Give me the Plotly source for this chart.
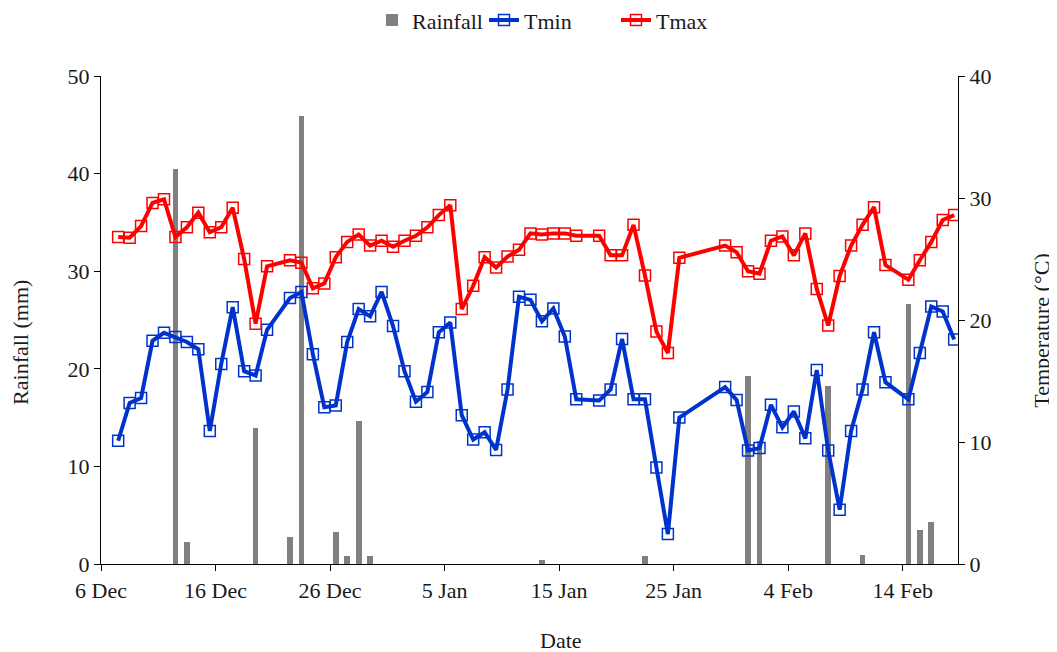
import pandas as pd
import plotly.graph_objects as go

# ---- data ----
dates = [
    "2018-12-07", "2018-12-08", "2018-12-09", "2018-12-10", "2018-12-11", "2018-12-12",
    "2018-12-13", "2018-12-14", "2018-12-15", "2018-12-16", "2018-12-17", "2018-12-18",
    "2018-12-19", "2018-12-20", "2018-12-22", "2018-12-23", "2018-12-24", "2018-12-25",
    "2018-12-26", "2018-12-27", "2018-12-28", "2018-12-29", "2018-12-30", "2018-12-31",
    "2019-01-01", "2019-01-02", "2019-01-03", "2019-01-04", "2019-01-05", "2019-01-06",
    "2019-01-07", "2019-01-08", "2019-01-09", "2019-01-10", "2019-01-11", "2019-01-12",
    "2019-01-13", "2019-01-14", "2019-01-15", "2019-01-16", "2019-01-18", "2019-01-19",
    "2019-01-20", "2019-01-21", "2019-01-22", "2019-01-23", "2019-01-24", "2019-01-25",
    "2019-01-29", "2019-01-30", "2019-01-31",
    "2019-02-01", "2019-02-02", "2019-02-03", "2019-02-04", "2019-02-05", "2019-02-06",
    "2019-02-07", "2019-02-08", "2019-02-09", "2019-02-10", "2019-02-11", "2019-02-12",
    "2019-02-14", "2019-02-15", "2019-02-16", "2019-02-17", "2019-02-18",
]

tmin = [
    10.1, 13.2, 13.6, 18.3, 18.95, 18.6,
    18.2, 17.6, 10.9, 16.4, 21.05, 15.8,
    15.45, 19.2, 21.8, 22.3, 17.2, 12.85,
    13.0, 18.2, 20.9, 20.3, 22.3, 19.5,
    15.8, 13.3, 14.1, 19.0, 19.8, 12.2,
    10.2, 10.8, 9.35, 14.3, 21.9, 21.65,
    19.9, 20.95, 18.65, 13.5, 13.4, 14.3,
    18.45, 13.5, 13.5, 7.9, 2.45, 12.0,
    14.5, 13.45, 9.3,
    9.5, 13.05, 11.2, 12.5, 10.3, 15.9,
    9.3, 4.45, 10.9, 14.3, 19.0, 14.9,
    13.5, 17.3, 21.1, 20.7, 18.4,
]

tmax = [
    26.8, 26.75, 27.7, 29.6, 29.9, 26.8,
    27.6, 28.8, 27.2, 27.6, 29.2, 25.0,
    19.7, 24.4, 24.9, 24.7, 22.6, 23.0,
    25.15, 26.4, 27.0, 26.1, 26.5, 26.0,
    26.5, 26.9, 27.6, 28.6, 29.4, 20.9,
    22.8, 25.15, 24.3, 25.2, 25.75, 27.1,
    27.0, 27.1, 27.1, 26.9, 26.9, 25.3,
    25.3, 27.8, 23.65, 19.05, 17.3, 25.1,
    26.1, 25.55, 24.0,
    23.8, 26.5, 26.85, 25.3, 27.1, 22.55,
    19.55, 23.6, 26.1, 27.8, 29.25, 24.5,
    23.3, 24.9, 26.4, 28.2, 28.6,
]

rainfall = [
    0, 0, 0, 0, 0, 40.5,
    2.3, 0, 0, 0, 0, 0,
    13.95, 0, 2.8, 45.9, 0, 0,
    3.25, 0.8, 14.7, 0.8, 0, 0,
    0, 0, 0, 0, 0, 0,
    0, 0, 0, 0, 0, 0,
    0.4, 0, 0, 0, 0, 0,
    0, 0, 0.8, 0, 0, 0,
    0, 0, 19.25,
    12.6, 0, 0, 0, 0, 0,
    18.2, 0, 0, 0.95, 0, 0,
    26.6, 3.5, 4.3, 0, 0,
]

tick_dates = ["2018-12-06", "2018-12-16", "2018-12-26", "2019-01-05",
              "2019-01-15", "2019-01-25", "2019-02-04", "2019-02-14"]
tick_labels = ["6 Dec", "16 Dec", "26 Dec", "5 Jan", "15 Jan", "25 Jan", "4 Feb", "14 Feb"]

# each day occupies a band starting at its tick; values sit at the band centre
x = pd.to_datetime(pd.Series(dates)) + pd.Timedelta(hours=12)

FONT = "Liberation Serif, Times New Roman, serif"
TXT = "#1a1a1a"
FS = 22
W, H = 1049, 644

fig = go.Figure()
fig.add_trace(go.Bar(
    x=x, y=rainfall, name="Rainfall", legend="legend",
    marker=dict(color="#808080", line=dict(width=0)),
    width=0.5 * 86400000, yaxis="y",
))
fig.add_trace(go.Scatter(
    x=x, y=tmin, name="Tmin", mode="lines+markers", yaxis="y2", legend="legend2",
    line=dict(color="#0033CC", width=4),
    marker=dict(symbol="square-open", size=11, color="#0033CC", line=dict(width=1.5)),
))
fig.add_trace(go.Scatter(
    x=x, y=tmax, name="Tmax", mode="lines+markers", yaxis="y2", legend="legend3",
    line=dict(color="#FF0000", width=4),
    marker=dict(symbol="square-open", size=11, color="#FF0000", line=dict(width=1.5)),
))

axis_common = dict(showgrid=False, zeroline=False, showline=True, linecolor="#000000",
                   linewidth=1.3, ticks="outside", ticklen=6, tickcolor="#000000",
                   automargin=False,
                   tickfont=dict(family=FONT, size=FS, color=TXT))


def leg(px_left):
    return dict(orientation="h", xref="container", yref="container",
                x=px_left / W, xanchor="left", y=0.981, yanchor="middle",
                font=dict(family=FONT, size=FS, color=TXT), itemwidth=30,
                bgcolor="rgba(0,0,0,0)", borderwidth=0)


fig.update_layout(
    width=W, height=H,
    margin=dict(l=93, r=W - 93 - 857, t=68, b=H - 68 - 488),
    paper_bgcolor="white", plot_bgcolor="white",
    font=dict(family=FONT, size=FS, color=TXT),
    bargap=0,
    showlegend=True,
    legend=leg(364),
    legend2=leg(476),
    legend3=leg(608),
    xaxis=dict(type="date", range=["2018-12-06", "2019-02-18 20:00"],
               tickvals=tick_dates, ticktext=tick_labels, **axis_common),
    yaxis=dict(range=[0, 50], dtick=10, **axis_common),
    yaxis2=dict(range=[0, 40], dtick=10, overlaying="y", side="right", **axis_common),
    annotations=[
        dict(text="Date", xref="paper", yref="paper", x=0.537, y=-0.157,
             xanchor="center", yanchor="middle",
             showarrow=False, font=dict(family=FONT, size=FS, color=TXT)),
        dict(text="Rainfall (mm)", xref="paper", yref="paper", x=-0.094, y=0.454,
             xanchor="center", yanchor="middle",
             textangle=-90, showarrow=False, font=dict(family=FONT, size=FS, color=TXT)),
        dict(text="Temperature (°C)", xref="paper", yref="paper", x=1.098, y=0.478,
             xanchor="center", yanchor="middle",
             textangle=-90, showarrow=False, font=dict(family=FONT, size=FS, color=TXT)),
    ],
)

fig.write_html("out.html")
